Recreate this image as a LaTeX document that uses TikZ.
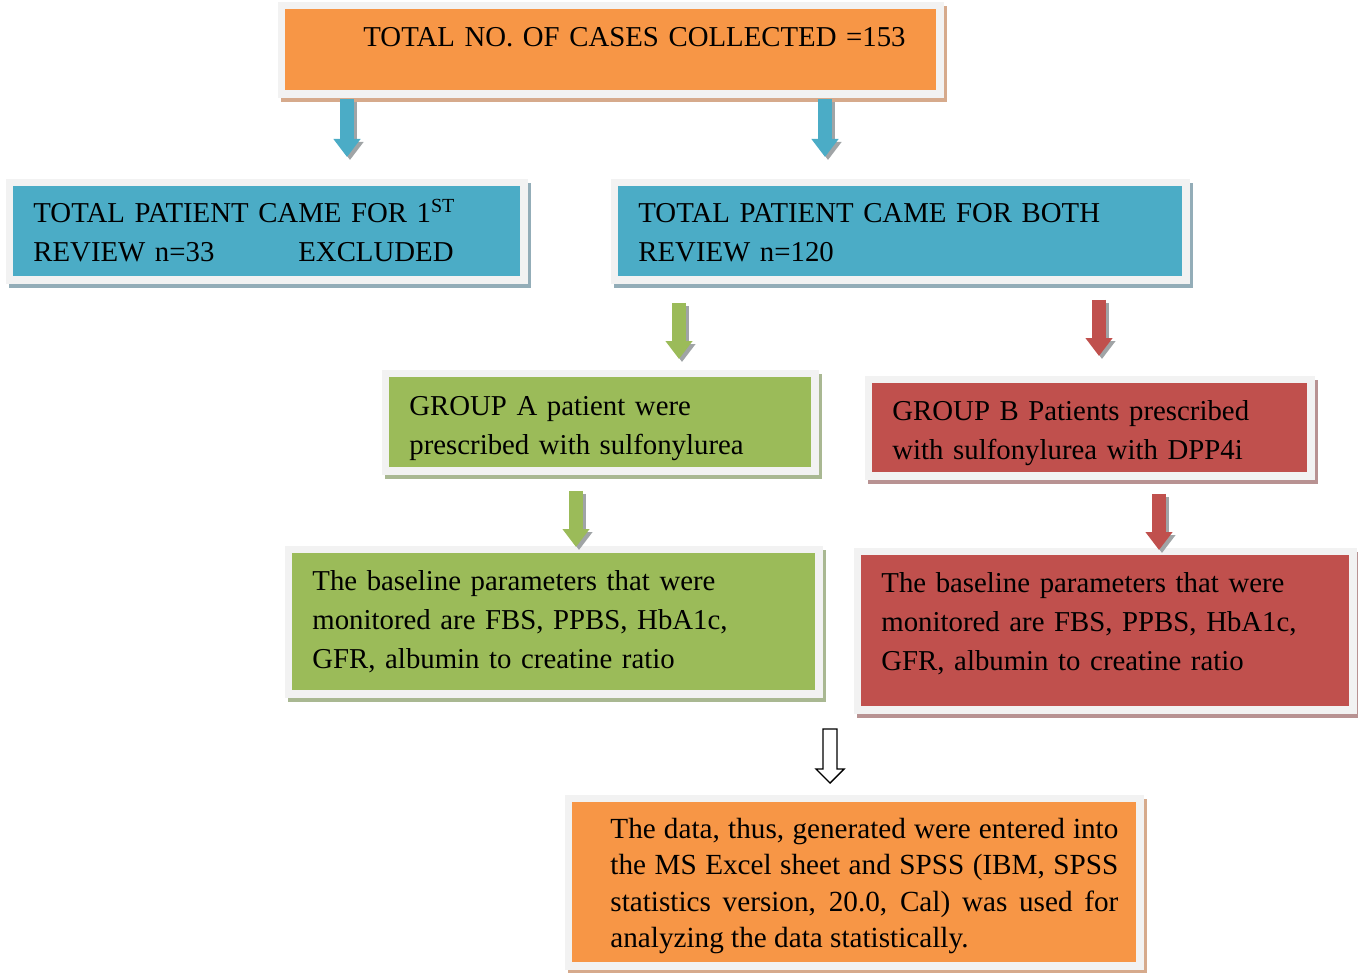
\documentclass[tikz,border=0pt]{standalone}
\usepackage{fontspec}
\setmainfont{Liberation Serif}
\usetikzlibrary{arrows.meta}
\usetikzlibrary{calc}
\usetikzlibrary{backgrounds}
\usetikzlibrary{positioning}

\definecolor{boxorange}{HTML}{F79646}
\definecolor{boxblue}{HTML}{4BACC6}
\definecolor{boxgreen}{HTML}{9BBB59}
\definecolor{boxred}{HTML}{C0504D}
\definecolor{framegray}{HTML}{F2F2F2}
\definecolor{shadeorange}{HTML}{D6AA8C}
\definecolor{shadeblue}{HTML}{93ADB8}
\definecolor{shadegreen}{HTML}{A9B892}
\definecolor{shadered}{HTML}{B89292}
\definecolor{arrowshade}{HTML}{A0A4A6}

\tikzset{
  flowbox/.style={anchor=north west, fill=#1, inner xsep=10pt, inner ysep=0pt, align=left, font=\fontsize{14.4}{19.5}\selectfont},
  flowarrow/.style={line width=7pt, draw=#1, -{Triangle[width=13pt,length=9pt]}},
  arrowshadow/.style={flowarrow=arrowshade, transform canvas={shift={(1.5pt,-1.5pt)}}},
}

\begin{document}
\begin{tikzpicture}[x=0.5pt, y=-0.5pt]
            \useasboundingbox (0,0) rectangle (1358,973);

            % boxes
            \node [flowbox=boxorange, minimum width=325.5pt, text width=305.5pt, text height=18.5pt, text depth=22pt] (total) at (285,9) {\hspace*{29pt}TOTAL NO. OF CASES COLLECTED =153};
            \node [flowbox=boxblue, minimum width=253.5pt, text width=233.5pt, text height=18.25pt, text depth=26.75pt] (first) at (13,186) {TOTAL PATIENT CAME FOR 1\textsuperscript{ST}\\REVIEW n=33\hspace{42pt}EXCLUDED};
            \node [flowbox=boxblue, minimum width=282pt, text width=262pt, text height=18.25pt, text depth=26.75pt] (both) at (618,186) {TOTAL PATIENT CAME FOR BOTH\\REVIEW n=120};
            \node [flowbox=boxgreen, minimum width=211pt, text width=191pt, text height=19pt, text depth=26pt] (groupA) at (389,377) {GROUP A patient were\\prescribed with sulfonylurea};
            \node [flowbox=boxred, minimum width=217.5pt, text width=197.5pt, text height=18.5pt, text depth=26pt] (groupB) at (872,383) {GROUP B Patients prescribed\\with sulfonylurea with DPP4i};
            \node [flowbox=boxgreen, minimum width=261.5pt, minimum height=68.5pt, text width=241.5pt] (baseA) at (292,553) {The baseline parameters that were\\monitored are FBS, PPBS, HbA1c,\\GFR, albumin to creatine ratio};
            \node [flowbox=boxred, minimum width=244pt, text width=224pt, text height=18.5pt, text depth=57pt] (baseB) at (861,555) {The baseline parameters that were\\monitored are FBS, PPBS, HbA1c,\\GFR, albumin to creatine ratio};
            \node [flowbox=boxorange, minimum width=282pt, inner xsep=9pt, text width=264pt, text height=18pt, text depth=62pt, align=justify, font=\fontsize{14.6}{18.15}\selectfont] (data) at (572,802) {\hspace*{10pt}The data, thus, generated were entered into\linebreak\hspace*{10pt}the MS Excel sheet and SPSS (IBM, SPSS\linebreak\hspace*{10pt}statistics version, 20.0, Cal) was used for\linebreak\hspace*{10pt}analyzing the data statistically.};

            % frames and shadows behind the boxes
            \begin{scope}[on background layer]
              \foreach \n/\s in {total/shadeorange, first/shadeblue, both/shadeblue, groupA/shadegreen, groupB/shadered, baseA/shadegreen, baseB/shadered, data/shadeorange}{
                \fill [\s] ($(\n.north west)+(-4,-3)$) rectangle ($(\n.south east)+(10,11)$);
                \fill [framegray] ($(\n.north west)+(-7,-7)$) rectangle ($(\n.south east)+(7,7)$);
              }
            \end{scope}

            % arrow tips
            \coordinate (tipFirst) at (347,157);
            \coordinate (tipBoth) at (825,157);
            \coordinate (tipA) at (679,359);
            \coordinate (tipB) at (1099,356);
            \coordinate (tipBaseA) at (576,547);
            \coordinate (tipBaseB) at (1159,550);
            \coordinate (topData) at (830,729);

            \draw [arrowshadow, shorten <=4pt] (tipFirst |- total.south) -- (tipFirst);
            \draw [flowarrow=boxblue, shorten <=4pt] (tipFirst |- total.south) -- (tipFirst);
            \draw [arrowshadow, shorten <=4pt] (tipBoth |- total.south) -- (tipBoth);
            \draw [flowarrow=boxblue, shorten <=4pt] (tipBoth |- total.south) -- (tipBoth);
            \draw [arrowshadow, shorten <=13pt] (tipA |- both.south) -- (tipA);
            \draw [flowarrow=boxgreen, shorten <=13pt] (tipA |- both.south) -- (tipA);
            \draw [arrowshadow, shorten <=11.5pt] (tipB |- both.south) -- (tipB);
            \draw [flowarrow=boxred, shorten <=11.5pt] (tipB |- both.south) -- (tipB);
            \draw [arrowshadow, shorten <=11.5pt] (tipBaseA |- groupA.south) -- (tipBaseA);
            \draw [flowarrow=boxgreen, shorten <=11.5pt] (tipBaseA |- groupA.south) -- (tipBaseA);
            \draw [arrowshadow, shorten <=10.5pt] (tipBaseB |- groupB.south) -- (tipBaseB);
            \draw [flowarrow=boxred, shorten <=10.5pt] (tipBaseB |- groupB.south) -- (tipBaseB);

            % open arrow down to the data box
            \draw [line width=0.7pt, fill=white] (topData) ++(-7,0) -- ++(0,40) -- ++(-7,0) -- ++(14,14) -- ++(14,-14) -- ++(-7,0) -- ++(0,-40) -- cycle;
\end{tikzpicture}
\end{document}
